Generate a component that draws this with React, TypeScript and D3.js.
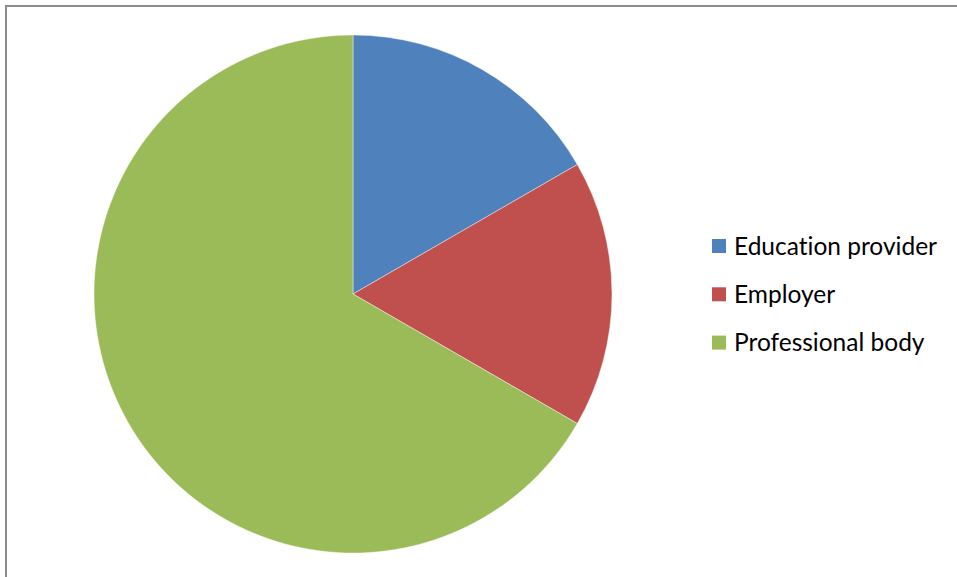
import React from "react";
import * as d3 from "d3";

const categories = ["Education provider", "Employer", "Professional body"];
const values = [1, 1, 4];
const colors = ["#4F81BD", "#C0504D", "#9BBB59"];

export default function App() {
  const W = 957, H = 577;
  const cx = 353, cy = 294, r = 259;
  const pie = d3.pie<number>().sort(null).value((d) => d);
  const arcs = pie(values);
  const arc = d3.arc<d3.PieArcDatum<number>>().innerRadius(0).outerRadius(r);
  const legendX = 712, legendY0 = 246, legendStep = 48.3;
  return (
    <svg width={W} height={H} style={{ position: "absolute", left: 0, top: 0, background: "#fff" }}>
      <rect x={6} y={6} width={W + 10} height={H + 10} fill="#fff" stroke="#8c8c8c" strokeWidth={2} />
      <g transform={`translate(${cx},${cy})`}>
        {arcs.map((a, i) => (
          <path key={i} d={arc(a) || ""} fill={colors[i]} stroke="#fff" strokeWidth={0.6} strokeOpacity={0.7} />
        ))}
      </g>
      <g>
        {categories.map((c, i) => (
          <g key={c} transform={`translate(${legendX},${legendY0 + i * legendStep})`}>
            <rect x={0} y={-7} width={14} height={14} fill={colors[i]} />
            <text
              x={22}
              y={0}
              dy="0.36em"
              fontFamily="Lato, sans-serif"
              fontSize={24.5}
              fill="#000"
              style={{ fontVariantLigatures: "none", fontFeatureSettings: "'liga' 0, 'clig' 0" }}
            >
              {c}
            </text>
          </g>
        ))}
      </g>
    </svg>
  );
}
